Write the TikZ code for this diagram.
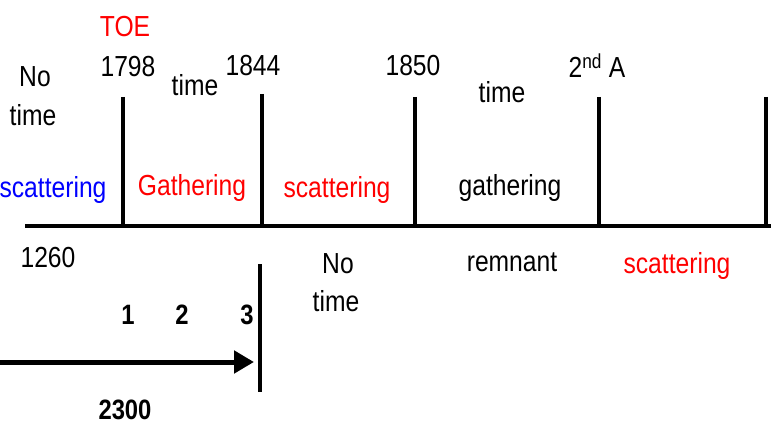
\documentclass[tikz,border=0pt]{standalone}
\usepackage{fontspec}
\setmainfont[FakeStretch=0.85]{Liberation Sans}
\usetikzlibrary{arrows.meta}
\definecolor{tred}{RGB}{255,0,0}
\definecolor{tblue}{RGB}{0,0,255}
\tikzset{
  lbl/.style={inner sep=0pt, font=\fontsize{29}{33}\selectfont},
  blbl/.style={lbl, font=\fontsize{28}{32}\selectfont\bfseries},
  axis/.style={line width=4pt},
  bar/.style={line width=4pt},
  bigarrow/.style={line width=5pt, -{Triangle[length=20pt,width=22pt]}}
}
\begin{document}
\begin{tikzpicture}[x=1pt,y=-1pt]
\useasboundingbox (0,0) rectangle (771,433);
% coordinates
\coordinate (axL) at (25,226);
\coordinate (axR) at (771,226);
\coordinate (t1) at (123,97);  \coordinate (b1) at (123,226);
\coordinate (t2) at (262,94);  \coordinate (b2) at (262,226);
\coordinate (t3) at (415,97);  \coordinate (b3) at (415,226);
\coordinate (t4) at (599,97);  \coordinate (b4) at (599,226);
\coordinate (t5) at (766,97);  \coordinate (b5) at (766,226);
\coordinate (lt) at (260,264); \coordinate (lb) at (260,392);
\coordinate (aL) at (0,362);   \coordinate (aR) at (254,362);
% lines
\draw[axis] (axL) -- (axR);
\draw[bar] (t1) -- (b1);
\draw[bar] (t2) -- (b2);
\draw[bar] (t3) -- (b3);
\draw[bar] (t4) -- (b4);
\draw[bar] (t5) -- (b5);
\draw[bar] (lt) -- (lb);
\draw[bigarrow] (aL) -- (aR);
% labels
\node[lbl, text=tred] (toe) at (125,27) {TOE};
\node[lbl] (y1798) at (128,67) {1798};
\node[lbl] (no1) at (35,77) {No};
\node[lbl] (time1) at (33,115) {time};
\node[lbl] (time2) at (195,85) {time};
\node[lbl] (y1844) at (253,66) {1844};
\node[lbl] (y1850) at (413,66) {1850};
\node[lbl] (time3) at (502,92) {time};
\node[lbl] (secA) at (597,66) {2\textsuperscript{nd} A};
\node[lbl, text=tblue] (sc1) at (53,190) {scattering};
\node[lbl, text=tred] (gath1) at (192,188) {Gathering};
\node[lbl, text=tred] (sc2) at (337,190) {scattering};
\node[lbl] (gath2) at (510,188) {gathering};
\node[lbl] (y1260) at (48,258) {1260};
\node[lbl] (no2) at (338,264) {No};
\node[lbl] (time4) at (336,301) {time};
\node[lbl] (remn) at (512,262) {remnant};
\node[lbl, text=tred] (sc3) at (677,266) {scattering};
\node[blbl] (n1) at (128,315) {1};
\node[blbl] (n2) at (182,315) {2};
\node[blbl] (n3) at (247,315) {3};
\node[blbl] (y2300) at (125,410) {2300};
\end{tikzpicture}
\end{document}
